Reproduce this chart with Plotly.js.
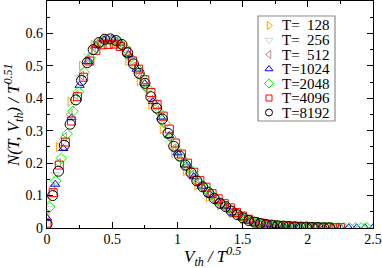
<!DOCTYPE html>
<html><head><meta charset="utf-8">
<script src="https://cdn.plot.ly/plotly-3.0.1.min.js"></script>
<style>html,body{margin:0;padding:0;background:#fff}</style>
</head><body><div id="plot" style="width:382px;height:268px"></div>
<script>
const labels = ["T=\u00a0\u00a0128","T=\u00a0\u00a0256","T=\u00a0\u00a0512","T=1024","T=2048","T=4096","T=8192"];
const colors = ["#ffa500","#d3d3d3","#bc8f8f","#0000ff","#00ff00","#ff0000","#000000"];
const symbols = ["triangle-right-open","triangle-down-open","triangle-left-open","triangle-up-open","diamond-open","square-open","circle-open"];
const xTitle = '<i>V<sub>th</sub> / T<sup>0.5</sup></i>';
const yTitle = '<i>N(T, V<sub>th</sub>) / T<sup>0.51</sup></i>';

const x128 = [0,0.088,0.177,0.265,0.354,0.442,0.530,0.619,0.707,0.796,0.884,0.972,1.061,1.149,1.238,1.326,1.414,1.503,1.591,1.680,1.768,1.856,1.945];
const y128 = [0.088,0.25,0.39,0.50,0.565,0.585,0.57,0.515,0.452,0.38,0.305,0.232,0.176,0.132,0.095,0.07,0.045,0.026,0.016,0.010,0.006,0.004,0.002];

const x256 = [0,0.063,0.125,0.188,0.25,0.313,0.375,0.438,0.5,0.563,0.625,0.688,0.75,0.813,0.875,0.938,1.0,1.063,1.125,1.188,1.25,1.313,1.375,1.438,1.5,1.563,1.625,1.688,1.75,1.813,1.875,1.938,2.0];
const y256 = [0.06,0.165,0.27,0.375,0.465,0.53,0.57,0.582,0.58,0.562,0.518,0.477,0.43,0.376,0.327,0.262,0.22,0.188,0.152,0.126,0.102,0.079,0.064,0.046,0.031,0.021,0.015,0.010,0.007,0.005,0.004,0.003,0.002];

const x512 = [0,0.044,0.088,0.133,0.177,0.221,0.265,0.309,0.354,0.398,0.442,0.486,0.530,0.575,0.619,0.663,0.707,0.751,0.796,0.840,0.884,0.928,0.972,1.017,1.061,1.105,1.149,1.193,1.238,1.282,1.326,1.370,1.414,1.459,1.503,1.547,1.591,1.635,1.680,1.724,1.768,1.812,1.856,1.901,1.945,1.989];
const y512 = [0.035,0.125,0.20,0.28,0.35,0.41,0.47,0.52,0.557,0.575,0.583,0.582,0.575,0.560,0.530,0.498,0.470,0.435,0.395,0.362,0.326,0.282,0.245,0.215,0.188,0.164,0.140,0.122,0.104,0.087,0.073,0.062,0.049,0.038,0.028,0.021,0.016,0.012,0.009,0.007,0.006,0.005,0.004,0.003,0.002,0.002];

const x1024 = [0,0.063,0.125,0.188,0.25,0.313,0.375,0.438,0.5,0.563,0.625,0.688,0.75,0.813,0.875,0.938,1.0,1.063,1.125,1.188,1.25,1.313,1.375,1.438,1.5,1.563,1.625,1.688,1.75,1.813,1.875,1.938,2.0,2.063,2.125,2.188,2.25,2.313,2.375,2.438,2.5];
const y1024 = [0.03,0.135,0.245,0.34,0.44,0.513,0.562,0.58,0.582,0.57,0.535,0.49,0.445,0.39,0.342,0.285,0.232,0.194,0.158,0.129,0.104,0.081,0.066,0.047,0.032,0.022,0.015,0.011,0.008,0.006,0.005,0.004,0.003,0.002,0.002,0.001,0.001,0.001,0.001,0.001,0.001];

const x2048 = [0.022,0.066,0.110,0.155,0.199,0.243,0.287,0.331,0.376,0.420,0.464,0.508,0.552,0.597,0.641,0.685,0.729,0.773,0.818,0.862,0.906,0.950,0.994,1.039,1.083,1.127,1.171,1.215,1.260,1.304,1.348,1.392,1.436,1.481,1.525,1.569,1.613,1.657,1.702,1.746,1.790,1.834,1.878,1.923,1.967,2.011,2.055,2.099,2.144,2.188,2.232,2.276,2.320,2.365,2.409,2.453];
const y2048 = [0.065,0.145,0.215,0.29,0.36,0.42,0.48,0.525,0.557,0.574,0.580,0.580,0.572,0.556,0.525,0.495,0.465,0.43,0.39,0.357,0.322,0.28,0.240,0.212,0.186,0.162,0.138,0.121,0.103,0.086,0.073,0.062,0.049,0.038,0.029,0.022,0.017,0.013,0.010,0.008,0.007,0.006,0.005,0.004,0.003,0.003,0.002,0.002,0.002,0.001,0.001,0.001,0.001,0.001,0.001,0.001];

const x4096 = [0,0.047,0.094,0.141,0.188,0.234,0.281,0.328,0.375,0.422,0.469,0.516,0.563,0.609,0.656,0.703,0.750,0.797,0.844,0.891,0.938,0.984,1.031,1.078,1.125,1.172,1.219,1.266,1.313,1.359,1.406,1.453,1.500,1.547,1.594,1.641,1.688,1.734,1.781,1.828,1.875,1.922,1.969,2.016,2.063,2.109,2.156,2.203,2.250];
const y4096 = [0.015,0.109,0.194,0.265,0.33,0.405,0.465,0.515,0.548,0.565,0.566,0.567,0.560,0.545,0.515,0.490,0.457,0.418,0.381,0.345,0.305,0.262,0.228,0.200,0.172,0.146,0.126,0.106,0.090,0.075,0.062,0.048,0.037,0.027,0.020,0.015,0.011,0.009,0.007,0.006,0.005,0.004,0.003,0.003,0.002,0.002,0.002,0.001,0.001];

const x8192 = [0,0.044,0.088,0.133,0.177,0.221,0.265,0.309,0.354,0.398,0.442,0.486,0.530,0.575,0.619,0.663,0.707,0.751,0.796,0.840,0.884,0.928,0.972,1.017,1.061,1.105,1.149,1.193,1.238,1.282,1.326,1.370,1.414,1.459,1.503,1.547,1.591,1.635,1.680,1.724,1.768,1.812,1.856,1.901,1.945,1.989,2.033,2.077,2.122,2.166];
const y8192 = [0.012,0.10,0.175,0.255,0.32,0.395,0.455,0.51,0.55,0.572,0.582,0.583,0.578,0.566,0.540,0.506,0.477,0.446,0.405,0.370,0.336,0.292,0.252,0.222,0.194,0.170,0.145,0.127,0.109,0.091,0.076,0.066,0.052,0.041,0.031,0.023,0.018,0.014,0.011,0.009,0.007,0.006,0.005,0.004,0.003,0.003,0.002,0.002,0.001,0.001];

const xs = [x128,x256,x512,x1024,x2048,x4096,x8192];
const ys = [y128,y256,y512,y1024,y2048,y4096,y8192];
const sizes = [8,8,8,8,8,8,10];
const legSizes = [7,7,7,7,7,6,7];

const serif = '"Liberation Serif", "Times New Roman", serif';
const fnt = {family: serif, size:14, color:'#000'};

// plot area in pixels: left 47, right 373, top 1, bottom 228
const W = 326, H = 227;
const traces = xs.map((x,i)=>({
  x: x, y: ys[i], type:'scatter', mode:'markers', name: labels[i], showlegend:false,
  marker:{symbol: symbols[i], size: sizes[i], color: colors[i], line:{width:1, color: colors[i]}}
}));

// hand-built legend (pixel-based overlay axes)
const legLeft = 258, legRight = 335, legTop = 16, legBottom = 121;
const rowY0 = 25.5, rowStep = 14.5, symX = 269 - 47, textX = 281;
labels.forEach((lab,i)=>{
  traces.push({x:[symX], y:[rowY0 - 1 + rowStep*i], xaxis:'x2', yaxis:'y2', type:'scatter', mode:'markers',
    showlegend:false, hoverinfo:'skip',
    marker:{symbol: symbols[i], size: legSizes[i], color: colors[i], line:{width:1, color: colors[i]}}});
});
const annotations = labels.map((lab,i)=>({
  xref:'paper', yref:'paper', x:(textX-47)/W, y:(228-(rowY0 + rowStep*i))/H,
  xanchor:'left', yanchor:'middle', showarrow:false, text: lab, borderpad:0,
  font:{family: serif, size:15, color:'#000'}
}));
annotations.push({xref:'paper', yref:'paper', x:(212-47)/W, y:(228-243)/H, xanchor:'center', yanchor:'top',
  showarrow:false, text:xTitle, borderpad:0, font:{family: serif, size:17, color:'#000'}});
annotations.push({xref:'paper', yref:'paper', x:(14-47)/W, y:(228-116)/H, xanchor:'center', yanchor:'middle',
  showarrow:false, text:yTitle, textangle:-90, borderpad:0, font:{family: serif, size:17, color:'#000'}});

const shapes = [{type:'rect', xref:'paper', yref:'paper',
  x0:(legLeft-47)/W, x1:(legRight-47)/W, y0:(228-legBottom)/H, y1:(228-legTop)/H,
  line:{color:'#8c8c8c', width:1.2}, fillcolor:'rgba(255,255,255,0)', layer:'above'}];

const axisCommon = {
  showline:true, linecolor:'#000', linewidth:1.3, mirror:'ticks',
  ticks:'inside', ticklen:6, tickwidth:1, tickcolor:'#000',
  showgrid:false, zeroline:false, tickfont: {family: serif, size:14, color:'#000'},
  minor:{ticks:'inside', ticklen:3, tickwidth:1, tickcolor:'#000', showgrid:false}
};
const layout = {
  width:382, height:268,
  margin:{l:47, r:9, t:1, b:40},
  paper_bgcolor:'#fff', plot_bgcolor:'#fff',
  font: fnt,
  showlegend:false,
  annotations: annotations,
  shapes: shapes,
  xaxis: Object.assign({}, axisCommon, {range:[0,2.5], tickvals:[0,0.5,1,1.5,2,2.5], ticktext:['0','0.5','1','1.5','2','2.5'],
     ticklabelstandoff:-2,
     minor:Object.assign({}, axisCommon.minor, {tickvals:[0.25,0.75,1.25,1.75,2.25]})}),
  yaxis: Object.assign({}, axisCommon, {range:[0,0.7], tickvals:[0,0.1,0.2,0.3,0.4,0.5,0.6], ticktext:['0','0.1','0.2','0.3','0.4','0.5','0.6'],
     minor:Object.assign({}, axisCommon.minor, {tickvals:[0.05,0.15,0.25,0.35,0.45,0.55,0.65]})}),
  xaxis2:{overlaying:'x', range:[0,W], visible:false, fixedrange:true},
  yaxis2:{overlaying:'y', range:[H,0], visible:false, fixedrange:true}
};
Plotly.newPlot('plot', traces, layout, {displayModeBar:false, staticPlot:true});
</script></body></html>
